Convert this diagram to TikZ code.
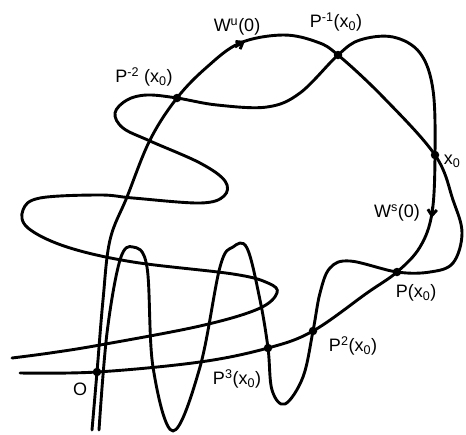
\documentclass[tikz,border=0pt]{standalone}
\usepackage{fontspec}
\setmainfont{Liberation Sans}
\usetikzlibrary{arrows.meta}
\tikzset{
  curve/.style={line width=2.9pt, line cap=round, line join=round},
  tip/.style={line width=2.9pt, -{Straight Barb[length=6pt,width=9pt]}},
  pt/.style={circle, fill, inner sep=0pt, minimum size=8.5pt},
  lab/.style={font=\fontsize{18}{20}\selectfont, inner sep=1pt},
}
\newcommand{\sub}[1]{\textsubscript{#1}}
\newcommand{\sups}[1]{\textsuperscript{#1}}

\begin{document}
\begin{tikzpicture}[x=1pt, y=-1pt]
    \useasboundingbox (0,0) rectangle (466,434);
    % fixed point and homoclinic orbit
    \coordinate (O) at (97,372);
    \coordinate (p3) at (268,348);
    \coordinate (p2) at (313,331);
    \coordinate (p1) at (397,272);
    \coordinate (x0) at (435,155);
    \coordinate (m1) at (338,55);
    \coordinate (m2) at (177,98);
    % stable manifold
    \draw[curve] plot[smooth, tension=0.6] coordinates {
      (12,358) (50,353) (100,345) (200,326) (258,309) (277,293) (268,283)
      (233,274) (133,262) (67,247) (28,228) (23,210) (40,198) (100,195)
      (133,198) (200,203) (224,196) (225,181) (200,163) (150,141) (123,128)
      (115,113) (127,100) (147,95) (m2) (217,105) (267,107) (300,93) (m1)
      (360,40) (393,37) (420,53) (433,90) (x0) (432,213) (420,247) (p1)
      (367,293) (p2) (p3) (200,362) (O) (20,373)};
    % unstable manifold
    \draw[curve] plot[smooth, tension=0.6] coordinates {
      (92,430) (O) (103,300) (110,240) (127,197) (150,140) (m2) (207,67)
      (240,43) (283,35) (317,42) (m1) (383,97) (x0) (453,200) (462,233)
      (453,263) (430,272) (p1) (350,261) (330,268) (320,293) (p2) (303,377)
      (285,404) (272,390) (p3) (260,300) (247,248) (233,247) (220,267)
      (200,367) (173,431) (153,367) (147,267) (133,247) (120,260) (107,333)
      (99,430)};
    \draw[tip] (235,47) -- (245,41);
    \draw[tip] (432.6,207) -- (431.6,218);
    \foreach \p in {O,p3,p2,p1,x0,m1,m2} \node[pt] at (\p) {};
    % labels
    \node[lab] (lO) at (80,389) {O};
    \node[lab] (lp3) at (237,379) {P\sups{3}(x\sub{0})};
    \node[lab] (lp2) at (353,346) {P\sups{2}(x\sub{0})};
    \node[lab] (lp1) at (416,293) {P(x\sub{0})};
    \node[lab] (lx0) at (452,161) {x\sub{0}};
    \node[lab] (lm1) at (336,22) {P\sups{-1}(x\sub{0})};
    \node[lab] (lm2) at (144,77) {P\sups{-2} (x\sub{0})};
    \node[lab] (lwu) at (237,27) {W\sups{u}(0)};
    \node[lab] (lws) at (397,213) {W\sups{s}(0)};
\end{tikzpicture}
\end{document}
